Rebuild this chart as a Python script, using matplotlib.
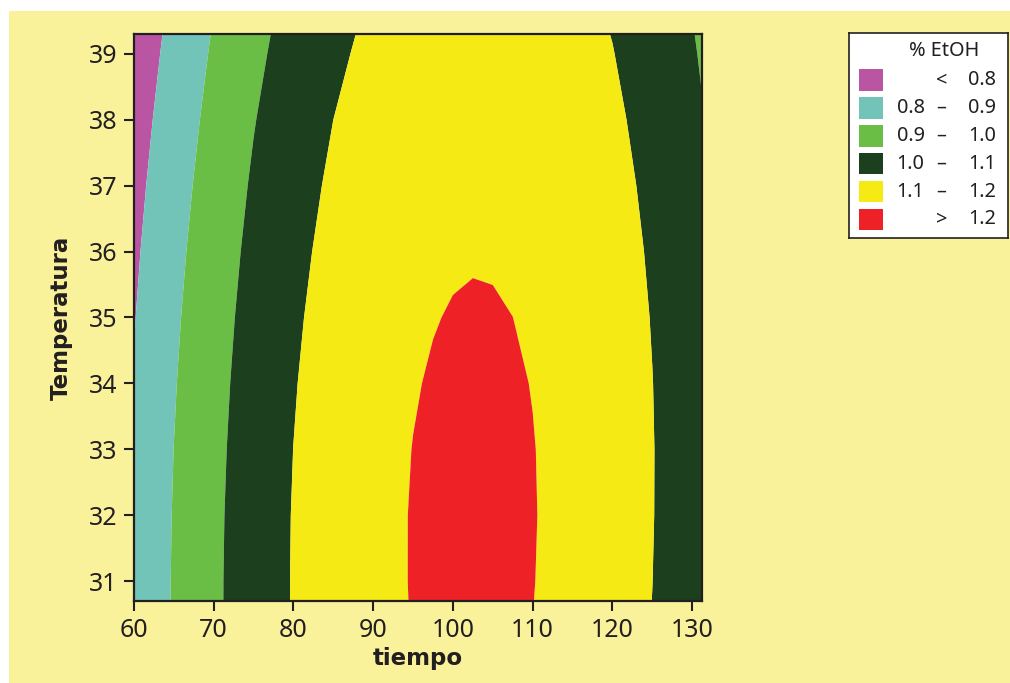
import numpy as np
import matplotlib
matplotlib.use("Agg")
import matplotlib.pyplot as plt
from matplotlib.patches import Rectangle

tiempo = [60, 65, 70, 75, 80, 85, 90, 95, 97.5, 100, 102.5, 105, 107.5, 110, 115, 120, 125, 130, 131.2]
temperatura = [30.7, 31, 32, 33, 34, 35, 36, 37, 38, 39, 39.3]
etoh = [
    [0.8193, 0.9073, 0.9841, 1.0499, 1.1047, 1.1483, 1.1809, 1.2025, 1.2091, 1.2129, 1.2140, 1.2123, 1.2079, 1.2007, 1.1780, 1.1442, 1.0994, 1.0434, 1.0284],
    [0.8190, 0.9070, 0.9840, 1.0499, 1.1047, 1.1485, 1.1812, 1.2029, 1.2096, 1.2135, 1.2146, 1.2130, 1.2086, 1.2015, 1.1789, 1.1452, 1.1005, 1.0447, 1.0296],
    [0.8164, 0.9048, 0.9822, 1.0485, 1.1037, 1.1478, 1.1809, 1.2029, 1.2098, 1.2139, 1.2152, 1.2138, 1.2096, 1.2026, 1.1804, 1.1471, 1.1027, 1.0473, 1.0324],
    [0.8118, 0.9006, 0.9783, 1.0450, 1.1005, 1.1451, 1.1785, 1.2009, 1.2080, 1.2122, 1.2138, 1.2125, 1.2085, 1.2017, 1.1799, 1.1469, 1.1030, 1.0479, 1.0330],
    [0.8051, 0.8942, 0.9723, 1.0394, 1.0953, 1.1402, 1.1740, 1.1968, 1.2040, 1.2085, 1.2102, 1.2092, 1.2053, 1.1987, 1.1772, 1.1447, 1.1011, 1.0464, 1.0316],
    [0.7963, 0.8858, 0.9643, 1.0317, 1.0880, 1.1333, 1.1675, 1.1906, 1.1980, 1.2027, 1.2046, 1.2037, 1.2001, 1.1937, 1.1725, 1.1404, 1.0971, 1.0428, 1.0281],
    [0.7854, 0.8753, 0.9542, 1.0219, 1.0786, 1.1243, 1.1588, 1.1824, 1.1900, 1.1948, 1.1969, 1.1962, 1.1927, 1.1865, 1.1658, 1.1340, 1.0911, 1.0372, 1.0226],
    [0.7725, 0.8627, 0.9419, 1.0101, 1.0672, 1.1132, 1.1481, 1.1720, 1.1798, 1.1848, 1.1871, 1.1866, 1.1833, 1.1773, 1.1569, 1.1255, 1.0830, 1.0294, 1.0149],
    [0.7574, 0.8481, 0.9276, 0.9962, 1.0536, 1.1000, 1.1353, 1.1596, 1.1676, 1.1728, 1.1752, 1.1749, 1.1718, 1.1660, 1.1460, 1.1149, 1.0728, 1.0196, 1.0052],
    [0.7403, 0.8313, 0.9113, 0.9802, 1.0380, 1.0847, 1.1204, 1.1451, 1.1532, 1.1586, 1.1613, 1.1611, 1.1582, 1.1526, 1.1330, 1.1023, 1.0605, 1.0077, 0.9934],
    [0.7348, 0.8259, 0.9060, 0.9750, 1.0329, 1.0798, 1.1156, 1.1403, 1.1485, 1.1540, 1.1567, 1.1566, 1.1538, 1.1482, 1.1286, 1.0981, 1.0564, 1.0037, 0.9894],
]

niveles = [0.8, 0.9, 1.0, 1.1, 1.2]
colores = ["#B955A3", "#72C4B9", "#6ABD45", "#1C3F1E", "#F5EA14", "#EE2226"]
etiq_izq = ["", "0.8", "0.9", "1.0", "1.1", ""]
etiq_sig = ["<", "\u2013", "\u2013", "\u2013", "\u2013", ">"]
etiq_der = ["0.8", "0.9", "1.0", "1.1", "1.2", "1.2"]

fondo = "#FAF29B"
tinta = "#231F20"
W, H = 1010, 683

fig = plt.figure(figsize=(W / 100, H / 100), dpi=100, facecolor="white")
fig.patches.append(Rectangle((9 / W, 0), 1, 1 - 11 / H, transform=fig.transFigure,
                             facecolor=fondo, edgecolor="none", zorder=-10))

ax = fig.add_axes([134 / W, 1 - 601 / H, 567.7 / W, 567 / H])
ax.contourf(tiempo, temperatura, np.array(etoh), levels=[-10] + niveles + [10],
            colors=colores, antialiased=True)
ax.set_xlim(60, 131.2)
ax.set_ylim(30.7, 39.3)
ax.set_xticks(range(60, 131, 10))
ax.set_yticks(range(31, 40))
for s in ax.spines.values():
    s.set_linewidth(1.6)
    s.set_color(tinta)
ax.tick_params(length=7, width=1.5, color=tinta, labelcolor=tinta, labelsize=18, pad=5)
for lab in ax.get_xticklabels() + ax.get_yticklabels():
    lab.set_fontfamily("Noto Sans")
ax.set_xlabel("tiempo", fontsize=16.5, fontweight="bold", color=tinta)
ax.set_ylabel("Temperatura", fontsize=16.5, fontweight="bold", color=tinta)
ax.xaxis.set_label_coords(0.5, -0.082)
ax.yaxis.set_label_coords(-0.108, 0.5)

# leyenda dibujada a mano, en pixeles
lg = fig.add_axes([849.3 / W, 1 - 238 / H, 159 / W, 204.7 / H])
lg.set_xlim(849.3, 1008.3)
lg.set_ylim(238, 33.3)
lg.set_xticks([])
lg.set_yticks([])
lg.set_facecolor("white")
for s in lg.spines.values():
    s.set_linewidth(1.2)
    s.set_color(tinta)
fuente = dict(fontsize=14.3, family="Noto Sans", color=tinta, va="center")
lg.text(944, 51.5, "% EtOH", ha="center", **fuente)
for i, c in enumerate(colores):
    yc = 80 + 27.9 * i
    lg.add_patch(Rectangle((859, yc - 10.7), 24, 21.4, facecolor=c, edgecolor="none"))
    lg.text(896.5, yc, etiq_izq[i], ha="left", **fuente)
    lg.text(941.5, yc, etiq_sig[i], ha="center", **fuente)
    lg.text(996, yc, etiq_der[i], ha="right", **fuente)

fig.savefig("out.png", dpi=100, facecolor=fig.get_facecolor())
